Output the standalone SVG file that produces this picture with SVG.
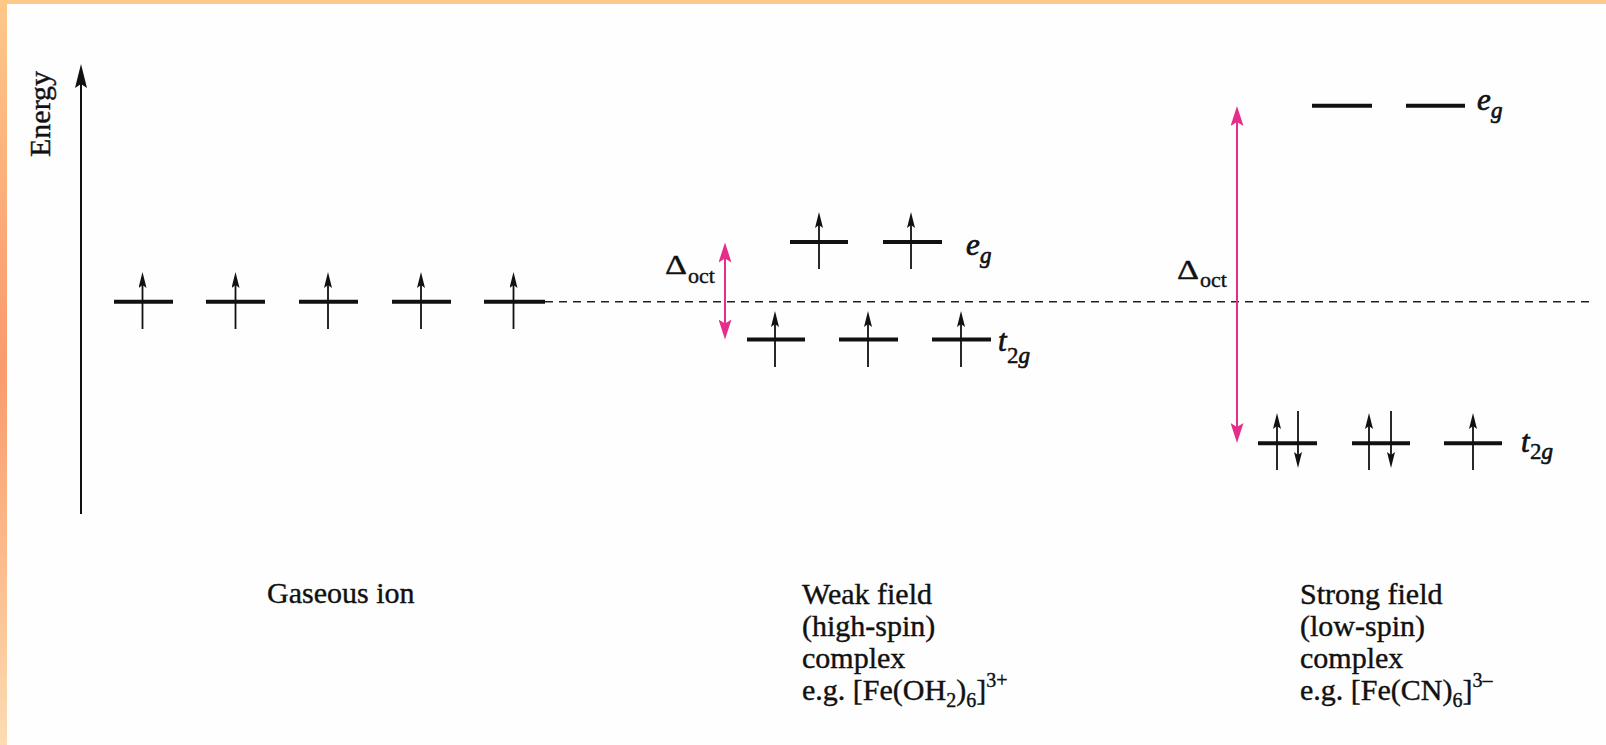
<svg xmlns="http://www.w3.org/2000/svg" width="1606" height="745" viewBox="0 0 1606 745">
<defs>
<linearGradient id="side" x1="0" y1="0" x2="0" y2="1">
<stop offset="0" stop-color="#fdc888"/>
<stop offset="0.35" stop-color="#fba574"/>
<stop offset="0.5" stop-color="#f99b6c"/>
<stop offset="0.75" stop-color="#fbbb8c"/>
<stop offset="1" stop-color="#fcdcb2"/>
</linearGradient>
<marker id="eh" viewBox="0 0 16 8" refX="8" refY="4" markerWidth="16" markerHeight="8" markerUnits="userSpaceOnUse" orient="auto"><path d="M0,0 L16,4 L0,8 L3,4 Z" fill="#111"/></marker>
<marker id="ax" viewBox="0 0 24 12" refX="12" refY="6" markerWidth="24" markerHeight="12" markerUnits="userSpaceOnUse" orient="auto"><path d="M0,0 L24,6 L0,12 L4,6 Z" fill="#111"/></marker>
<marker id="mh" viewBox="0 0 20 13" refX="10" refY="6.5" markerWidth="20" markerHeight="13" markerUnits="userSpaceOnUse" orient="auto-start-reverse"><path d="M0,0 L20,6.5 L0,13 L4,6.5 Z" fill="#e52e8a"/></marker>
<style>
.lvl{stroke:#111;stroke-width:4;fill:none}
.el{stroke:#111;stroke-width:1.8;fill:none}
.t{font-family:"Liberation Serif","Times New Roman",serif;fill:#111;stroke:#111;stroke-width:0.4}
.it{font-style:italic;stroke-width:0.7}
.mag{stroke:#e52e8a;stroke-width:2;fill:none}
</style>
</defs>
<rect x="0" y="0" width="1606" height="745" fill="#fefefe"/>
<rect x="0" y="0" width="1606" height="4" fill="#fdc98b"/>
<rect x="0" y="0" width="7" height="745" fill="url(#side)"/>

<g id="energy-axis">
<line x1="81" y1="514" x2="81" y2="76" stroke="#111" stroke-width="2" marker-end="url(#ax)"/>
<text class="t" font-size="30" transform="translate(50,157) rotate(-90)">Energy</text>
</g>

<g id="gaseous-ion">
<line class="lvl" x1="114" y1="301.7" x2="173" y2="301.7"/>
<line class="lvl" x1="206" y1="301.7" x2="265" y2="301.7"/>
<line class="lvl" x1="299" y1="301.7" x2="358" y2="301.7"/>
<line class="lvl" x1="392" y1="301.7" x2="451" y2="301.7"/>
<line class="lvl" x1="484" y1="301.7" x2="545" y2="301.7"/>
<line class="el" x1="142.5" y1="329" x2="142.5" y2="280" marker-end="url(#eh)"/>
<line class="el" x1="235.5" y1="329" x2="235.5" y2="280" marker-end="url(#eh)"/>
<line class="el" x1="328" y1="329" x2="328" y2="280" marker-end="url(#eh)"/>
<line class="el" x1="421" y1="329" x2="421" y2="280" marker-end="url(#eh)"/>
<line class="el" x1="513.5" y1="329" x2="513.5" y2="280" marker-end="url(#eh)"/>
<text class="t" font-size="30" x="267" y="603">Gaseous ion</text>
</g>

<g id="weak-eg">
<line class="lvl" x1="790" y1="242" x2="848" y2="242"/>
<line class="lvl" x1="883" y1="242" x2="942" y2="242"/>
<line class="el" x1="819" y1="269" x2="819" y2="220" marker-end="url(#eh)"/>
<line class="el" x1="911" y1="269" x2="911" y2="220" marker-end="url(#eh)"/>
<text class="t it" font-size="31" x="966" y="255">e</text>
<text class="t it" font-size="23" x="980" y="263">g</text>
</g>

<g id="weak-t2g">
<line class="lvl" x1="747" y1="339.5" x2="805" y2="339.5"/>
<line class="lvl" x1="839" y1="339.5" x2="898" y2="339.5"/>
<line class="lvl" x1="932" y1="339.5" x2="991" y2="339.5"/>
<line class="el" x1="775" y1="367" x2="775" y2="319" marker-end="url(#eh)"/>
<line class="el" x1="868" y1="367" x2="868" y2="319" marker-end="url(#eh)"/>
<line class="el" x1="961" y1="367" x2="961" y2="319" marker-end="url(#eh)"/>
<text class="t it" font-size="31" x="998" y="350.5">t</text>
<text class="t" font-size="23" x="1007" y="363">2<tspan class="it">g</tspan></text>
</g>

<g id="weak-label">
<text class="t" font-size="30" x="802" y="604">Weak field</text>
<text class="t" font-size="30" x="802" y="636">(high-spin)</text>
<text class="t" font-size="30" x="802" y="668">complex</text>
<text class="t" font-size="30" x="802" y="700">e.g. [Fe(OH<tspan font-size="20" dy="7">2</tspan><tspan dy="-7">)</tspan><tspan font-size="20" dy="7">6</tspan><tspan dy="-7">]</tspan><tspan font-size="20" dy="-13">3+</tspan></text>
</g>

<g id="strong-eg">
<line class="lvl" x1="1312" y1="105.7" x2="1372" y2="105.7"/>
<line class="lvl" x1="1406" y1="105.7" x2="1465" y2="105.7"/>
<text class="t it" font-size="31" x="1477" y="109.5">e</text>
<text class="t it" font-size="23" x="1491" y="118">g</text>
</g>

<g id="strong-t2g">
<line class="lvl" x1="1258" y1="443.3" x2="1317" y2="443.3"/>
<line class="lvl" x1="1352" y1="443.3" x2="1410" y2="443.3"/>
<line class="lvl" x1="1444" y1="443.3" x2="1502" y2="443.3"/>
<line class="el" x1="1277" y1="470" x2="1277" y2="421" marker-end="url(#eh)"/>
<line class="el" x1="1298" y1="411" x2="1298" y2="460" marker-end="url(#eh)"/>
<line class="el" x1="1369" y1="470" x2="1369" y2="421" marker-end="url(#eh)"/>
<line class="el" x1="1391" y1="411" x2="1391" y2="460" marker-end="url(#eh)"/>
<line class="el" x1="1473" y1="470" x2="1473" y2="421" marker-end="url(#eh)"/>
<text class="t it" font-size="31" x="1521" y="451.5">t</text>
<text class="t" font-size="23" x="1530" y="459">2<tspan class="it">g</tspan></text>
</g>

<g id="strong-label">
<text class="t" font-size="30" x="1300" y="604">Strong field</text>
<text class="t" font-size="30" x="1300" y="636">(low-spin)</text>
<text class="t" font-size="30" x="1300" y="668">complex</text>
<text class="t" font-size="30" x="1300" y="700">e.g. [Fe(CN)<tspan font-size="20" dy="7">6</tspan><tspan dy="-7">]</tspan><tspan font-size="20" dy="-13">3–</tspan></text>
</g>

<g id="delta-weak">
<text class="t" font-size="27" x="665" y="274" textLength="22" lengthAdjust="spacingAndGlyphs" stroke-width="0.8">Δ</text>
<text class="t" font-size="22" x="688" y="283">oct</text>
</g>

<g id="delta-strong">
<text class="t" font-size="27" x="1177" y="279" textLength="22" lengthAdjust="spacingAndGlyphs" stroke-width="0.8">Δ</text>
<text class="t" font-size="22" x="1200" y="287">oct</text>
</g>

<g id="connectors">
<line x1="545" y1="301.7" x2="1594" y2="301.7" stroke="#222" stroke-width="1.5" stroke-dasharray="8 6"/>
<line class="mag" x1="725" y1="252.5" x2="725" y2="329.5" marker-start="url(#mh)" marker-end="url(#mh)"/>
<line class="mag" x1="1237" y1="116" x2="1237" y2="433" marker-start="url(#mh)" marker-end="url(#mh)"/>
</g>
</svg>
